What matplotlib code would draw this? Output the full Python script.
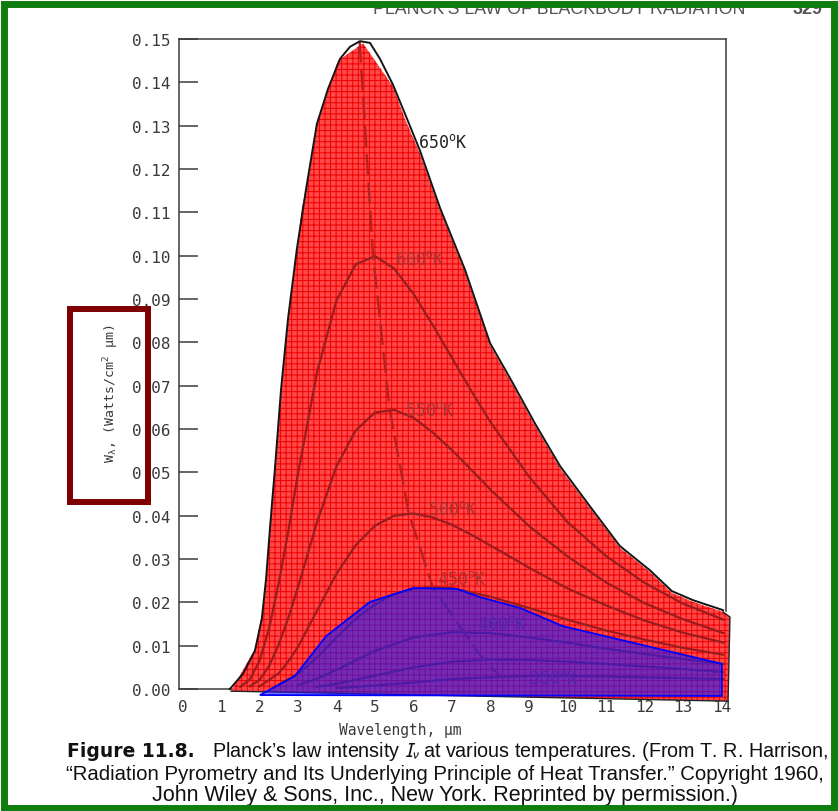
import matplotlib
matplotlib.use('Agg')
import matplotlib.pyplot as plt
from matplotlib.patches import Polygon, Rectangle

# ---- data (wavelength in um, W in Watts/cm2 um) ----
wl_650 = [1.23, 1.57, 1.88, 2.06, 2.17, 2.27, 2.40, 2.56, 2.74, 2.97, 3.21, 3.49, 3.78, 4.09,
          4.35, 4.61, 4.87, 5.13, 5.47, 5.78, 6.17, 6.69, 7.34, 7.99, 8.51, 9.16, 9.81, 10.58,
          11.36, 12.14, 12.71, 13.26, 14.04]
w_650 = [0.0, 0.0035, 0.0088, 0.0162, 0.0254, 0.0369, 0.0508, 0.0692, 0.0854, 0.1015, 0.1154,
         0.1304, 0.1385, 0.1454, 0.1482, 0.1495, 0.1491, 0.1454, 0.1394, 0.1327, 0.1242, 0.1110,
         0.0967, 0.0798, 0.0717, 0.0612, 0.0514, 0.0422, 0.0330, 0.0274, 0.0226, 0.0205, 0.0182]

wl_600 = [1.5, 1.75, 2.0, 2.25, 2.5, 2.75, 3.0, 3.5, 4.0, 4.5, 5.0, 5.5, 6.0, 6.5, 7.0, 7.5, 8.0,
          9.0, 10.0, 11.0, 12.0, 13.0, 14.05]
w_600 = [0.0005, 0.0022, 0.0065, 0.014, 0.0245, 0.0365, 0.0497, 0.0733, 0.0897, 0.098, 0.0999,
         0.097, 0.0912, 0.084, 0.0764, 0.0688, 0.0616, 0.049, 0.0385, 0.0307, 0.0245, 0.0197, 0.016]

wl_550 = [1.75, 2.0, 2.25, 2.5, 2.75, 3.0, 3.5, 4.0, 4.5, 5.0, 5.5, 6.0, 6.5, 7.0, 7.5, 8.0,
          9.0, 10.0, 11.0, 12.0, 13.0, 14.05]
w_550 = [0.0006, 0.0021, 0.0053, 0.0103, 0.0164, 0.0235, 0.0387, 0.0514, 0.0597, 0.0638, 0.0644,
         0.0626, 0.0592, 0.0551, 0.0506, 0.046, 0.0376, 0.0306, 0.0246, 0.0198, 0.0161, 0.0129]

wl_500 = [2.0, 2.5, 2.75, 3.0, 3.5, 4.0, 4.5, 5.0, 5.5, 6.0, 6.5, 7.0, 7.5, 8.0, 9.0, 10.0,
          11.0, 12.0, 13.0, 14.05]
w_500 = [0.0006, 0.0036, 0.0064, 0.0097, 0.0182, 0.0266, 0.0332, 0.0377, 0.040, 0.0405, 0.0396,
         0.0379, 0.0356, 0.0331, 0.028, 0.0232, 0.0193, 0.0158, 0.013, 0.0107]

wl_450 = [2.5, 3.0, 3.5, 4.0, 4.5, 5.0, 5.5, 6.0, 6.5, 7.0, 8.0, 9.0, 10.0, 11.0, 12.0, 13.0, 14.05]
w_450 = [0.001, 0.0035, 0.0073, 0.0119, 0.0162, 0.0195, 0.0219, 0.0231, 0.0235, 0.0233, 0.0213,
         0.0187, 0.016, 0.0135, 0.0114, 0.0095, 0.0079]

wl_400 = [3.0, 3.5, 4.0, 5.0, 6.0, 7.0, 8.0, 9.0, 10.0, 11.0, 12.0, 13.0, 14.05]
w_400 = [0.0009, 0.0024, 0.0044, 0.0088, 0.0119, 0.0131, 0.0129, 0.0119, 0.0107, 0.0093, 0.0081,
         0.0069, 0.0058]

wl_350 = [3.5, 4.0, 5.0, 6.0, 7.0, 8.0, 9.0, 10.0, 11.0, 12.0, 13.0, 14.05]
w_350 = [0.0005, 0.0012, 0.0031, 0.005, 0.0063, 0.0068, 0.0067, 0.0063, 0.0058, 0.0052, 0.0046, 0.0039]

wl_300 = [4.0, 5.0, 6.0, 7.0, 8.0, 9.0, 10.0, 11.0, 12.0, 13.0, 14.05]
w_300 = [0.0002, 0.0008, 0.0015, 0.0023, 0.0027, 0.003, 0.003, 0.0029, 0.0027, 0.0025, 0.0023]

# dashed locus of the maxima
wl_peak = [4.6, 4.95, 5.38, 5.88, 6.5, 7.3, 7.75, 8.3]
w_peak = [0.1495, 0.100, 0.0645, 0.0405, 0.0235, 0.0132, 0.0076, 0.0025]

# highlighted regions drawn over the scan
red_wl = [1.26, 1.88, 2.09, 2.22, 2.32, 2.48, 2.66, 2.87, 3.10, 3.31, 3.52, 4.04, 4.69, 5.47,
          5.78, 6.17, 6.69, 7.34, 7.99, 8.51, 9.16, 9.81, 10.58, 11.36, 12.14, 12.71, 13.26,
          14.04, 14.22, 14.17]
red_w = [-0.0005, 0.0092, 0.0185, 0.030, 0.0438, 0.060, 0.0785, 0.0946, 0.1108, 0.120, 0.1315,
         0.145, 0.149, 0.139, 0.1315, 0.1235, 0.1105, 0.0962, 0.0793, 0.0712, 0.0607, 0.0509,
         0.0418, 0.0326, 0.0270, 0.0222, 0.0201, 0.0178, 0.0166, -0.0028]

blue_wl = [2.01, 2.92, 3.73, 4.87, 5.99, 7.13, 7.73, 8.77, 9.88, 14.01, 14.01]
blue_w = [-0.0014, 0.003, 0.0122, 0.0201, 0.0233, 0.0231, 0.0212, 0.0187, 0.0145, 0.0058, -0.0016]

temps = ['650', '600', '550', '500', '450', '400', '350']
label_wl = [6.12, 5.52, 5.78, 6.38, 6.61, 7.65, 9.0]
label_w = [0.1262, 0.0992, 0.0644, 0.0415, 0.0254, 0.0150, 0.0025]

xticks = list(range(0, 15))
yticks = [i / 100 for i in range(0, 16)]

plt.rcParams['mathtext.fontset'] = 'custom'
plt.rcParams['mathtext.rm'] = 'DejaVu Sans Mono'
plt.rcParams['mathtext.it'] = 'DejaVu Sans Mono'
plt.rcParams['hatch.linewidth'] = 0.7

mono = 'DejaVu Sans Mono'
ink = '#3a3a3a'
curve_col = '#9a1c1c'


def main():
    fig = plt.figure(figsize=(8.38, 8.12), dpi=100)
    W, H = 838, 812
    ax = fig.add_axes([179 / W, 1 - 690 / H, (726 - 179) / W, (690 - 40) / H])
    ax.set_xlim(-0.091, 14.117)
    ax.set_ylim(0, 0.15)

    # ---- the original drawing ----
    for s in ax.spines.values():
        s.set_color(ink)
        s.set_linewidth(1.1)
    ax.spines['right'].set_bounds(0.018, 0.15)

    ax.set_xticks(xticks)
    ax.set_xticklabels([str(t) for t in xticks], fontfamily=mono, fontsize=11.5, color=ink)
    ax.set_xticks([1], minor=True)
    ax.tick_params(axis='x', which='major', length=0, pad=7)
    ax.tick_params(axis='x', which='minor', direction='in', length=11, width=1.1, color=ink)
    ax.set_yticks(yticks)
    ax.set_yticklabels(['%.2f' % t for t in yticks], fontfamily=mono, fontsize=11.5, color=ink)
    ax.tick_params(axis='y', direction='in', length=14, width=1.1, color=ink, pad=6)

    ax.set_xlabel('Wavelength, µm', fontfamily=mono, fontsize=10.5, color=ink)
    ax.xaxis.set_label_coords(0.404, -0.062)
    ax.xaxis.label.set_va('center')
    ax.set_ylabel(r'W$_{λ}$, (Watts/cm$^{2}$ µm)', fontfamily=mono, fontsize=9.5, color=ink)
    ax.yaxis.set_label_coords(-0.124, 0.456)
    ax.yaxis.label.set_va('center')

    # ---- overlays ----
    red = Polygon(list(zip(red_wl, red_w)), closed=True, facecolor='#ff4848',
                  edgecolor='#ee0000', hatch='+++', linewidth=0, zorder=3, clip_on=False)
    ax.add_patch(red)
    # thin dark edge on the right and bottom of the red region
    ax.plot(red_wl[-3:] + red_wl[:1], red_w[-3:] + red_w[:1], color='#222222', lw=1.0,
            zorder=3.1, clip_on=False)

    for wl, w in [(wl_600, w_600), (wl_550, w_550), (wl_500, w_500), (wl_450, w_450),
                  (wl_400, w_400), (wl_350, w_350), (wl_300, w_300)]:
        ax.plot(wl, w, color=curve_col, lw=1.6, zorder=4, clip_on=False)
    ax.plot(wl_peak, w_peak, color='#b82020', lw=1.7, dashes=(9, 3), zorder=4)
    ax.plot(wl_650, w_650, color='#151515', lw=1.4, zorder=6, clip_on=False)

    for i, t in enumerate(temps):
        col = '#222222' if i == 0 else '#a83232'
        ax.text(label_wl[i], label_w[i], t + r'$^{\mathrm{o}}$K', fontfamily=mono, fontsize=12,
                color=col, ha='left', va='center', zorder=4)

    blue = Polygon(list(zip(blue_wl, blue_w)), closed=True, facecolor=(0.1, 0.1, 1.0, 0.6),
                   edgecolor='#0000ff', linewidth=1.3, zorder=5, clip_on=False)
    ax.add_patch(blue)

    # ---- page furniture ----
    fig.text(373 / W, 1 - 14 / H, "PLANCK'S LAW OF BLACKBODY RADIATION", fontfamily='Liberation Sans',
             fontsize=12.8, color='#555555', va='baseline', ha='left')
    fig.text(793 / W, 1 - 14 / H, '329', fontfamily='Liberation Sans', fontsize=13,
             fontweight='bold', color='#555555', va='baseline', ha='left')

    cap_y = [1 - 757 / H, 1 - 780 / H, 1 - 801 / H]
    fig.text(67 / W, cap_y[0], 'Figure 11.8.', fontfamily='DejaVu Sans', fontweight='bold',
             fontsize=13.5, va='baseline', color='#111111')
    fig.text(212 / W, cap_y[0],
             r"Planck’s law intensity $\mathit{I_\nu}$ at various temperatures. (From T. R. Harrison,",
             fontfamily='Liberation Sans', fontsize=14.2, va='baseline', color='#111111',
             math_fontfamily='stixsans')
    fig.text(66 / W, cap_y[1],
             "“Radiation Pyrometry and Its Underlying Principle of Heat Transfer.” Copyright 1960,",
             fontfamily='Liberation Sans', fontsize=14.7, va='baseline', color='#111111')
    fig.text(445 / W, cap_y[2], 'John Wiley & Sons, Inc., New York. Reprinted by permission.)',
             fontfamily='Liberation Sans', fontsize=15.5, va='baseline', ha='center', color='#111111')

    fig.add_artist(Rectangle((70 / W, 1 - 503 / H), 78 / W, 193 / H, transform=fig.transFigure,
                             fill=False, edgecolor='#7f0000', linewidth=4.3, zorder=20))
    # green page border
    fig.add_artist(Rectangle((3.5 / W, 3.5 / H), (W - 7.5) / W, (H - 8.5) / H,
                             transform=fig.transFigure, fill=False,
                             edgecolor='#0e7d0e', linewidth=5.0, zorder=30))
    fig.add_artist(Rectangle((0, 1 - 2 / H), 1, 2 / H, transform=fig.transFigure,
                             facecolor='white', edgecolor='none', zorder=31))

    fig.savefig('out.png', dpi=100)


if __name__ == '__main__':
    main()
